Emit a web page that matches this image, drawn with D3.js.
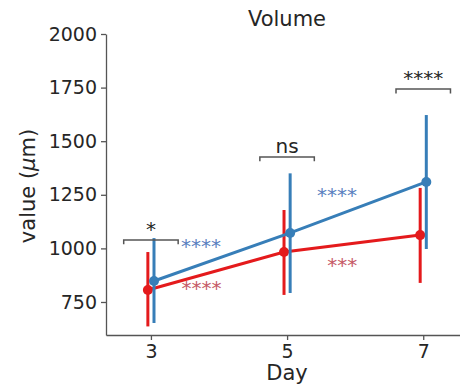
<!DOCTYPE html>
<html>
<head>
<meta charset="utf-8">
<script src="https://cdn.jsdelivr.net/npm/d3@7"></script>
<style>
  body { margin: 0; background: #fff; }
  text { font-family: "DejaVu Sans", sans-serif; fill: #262626; }
</style>
</head>
<body>
<svg id="chart"></svg>
<script>
const width = 460;
const height = 385;

// data
const days = [3, 5, 7];
const redMean = [806, 983, 1062];
const redLow = [636, 783, 839];
const redHigh = [983, 1179, 1282];
const blueMean = [848, 1072, 1310];
const blueLow = [652, 792, 997];
const blueHigh = [1048, 1350, 1622];
const yTicks = [750, 1000, 1250, 1500, 1750, 2000];

// bracket comparisons between the two groups on each day
const bracketDays = [3, 5, 7];
const bracketY = [1039, 1426, 1743];
const bracketLabels = ["*", "ns", "****"];

// within-group annotations (day, value, text)
const blueNotes = [[3.44, 979, "****"], [5.44, 1216, "****"]];
const redNotes = [[3.45, 783, "****"], [5.59, 890, "***"]];

const RED = "#e41a1c";
const BLUE = "#377eb8";

const svg = d3.select("#chart")
  .attr("width", width)
  .attr("height", height);

const x = d3.scaleLinear().domain([2.34, 7.54]).range([106, 460]);
const y = d3.scaleLinear().domain([596, 2000]).range([335, 34]);

// axes
const yAxis = svg.append("g")
  .attr("transform", `translate(${x.range()[0]},0)`)
  .call(d3.axisLeft(y).tickValues(yTicks).tickFormat(d3.format("d"))
    .tickSize(5).tickPadding(4).tickSizeOuter(0));
const xAxis = svg.append("g")
  .attr("transform", `translate(0,${y.range()[0]})`)
  .call(d3.axisBottom(x).tickValues(days).tickFormat(d3.format("d"))
    .tickSize(5).tickPadding(5).tickSizeOuter(0));

[yAxis, xAxis].forEach(a => {
  a.select(".domain").attr("stroke", "#555").attr("stroke-width", 1.3);
  a.selectAll(".tick line").attr("stroke", "#555").attr("stroke-width", 1.3);
  a.selectAll(".tick text").style("font-size", "19px").attr("fill", "#262626");
});

// titles
svg.append("text")
  .attr("x", 287).attr("y", 26)
  .attr("text-anchor", "middle")
  .style("font-size", "21px")
  .text("Volume");

svg.append("text")
  .attr("x", 287).attr("y", 380)
  .attr("text-anchor", "middle")
  .style("font-size", "21px")
  .text("Day");

const ylab = svg.append("text")
  .attr("transform", "translate(35,186) rotate(-90)")
  .attr("text-anchor", "middle")
  .style("font-size", "21px");
ylab.append("tspan").text("value (");
ylab.append("tspan").style("font-style", "italic").text("μ");
ylab.append("tspan").text("m)");

// series
const dodge = 0.045;
function drawSeries(mean, low, high, color, off) {
  const g = svg.append("g");
  const line = d3.line().x((d, i) => x(days[i] + off)).y(d => y(d));
  g.append("path")
    .datum(mean)
    .attr("d", line)
    .attr("fill", "none")
    .attr("stroke", color)
    .attr("stroke-width", 3);
  g.selectAll("line.err")
    .data(days)
    .join("line")
    .attr("class", "err")
    .attr("x1", (d) => x(d + off))
    .attr("x2", (d) => x(d + off))
    .attr("y1", (d, i) => y(low[i]))
    .attr("y2", (d, i) => y(high[i]))
    .attr("stroke", color)
    .attr("stroke-width", 3);
  g.selectAll("circle")
    .data(mean)
    .join("circle")
    .attr("cx", (d, i) => x(days[i] + off))
    .attr("cy", d => y(d))
    .attr("r", 5)
    .attr("fill", color);
}
drawSeries(redMean, redLow, redHigh, RED, -dodge);
drawSeries(blueMean, blueLow, blueHigh, BLUE, dodge);

// brackets
const half = 0.4;
const tick = 20;
bracketDays.forEach((d, i) => {
  const by = y(bracketY[i]);
  svg.append("path")
    .attr("d", `M${x(d - half)},${y(bracketY[i] - tick)}V${by}H${x(d + half)}V${y(bracketY[i] - tick)}`)
    .attr("fill", "none")
    .attr("stroke", "#555")
    .attr("stroke-width", 1.5);
  svg.append("text")
    .attr("x", x(d))
    .attr("y", by - 4)
    .attr("text-anchor", "middle")
    .style("font-size", "20px")
    .text(bracketLabels[i]);
});

// within-group stars
function notes(list, color) {
  svg.selectAll(null)
    .data(list)
    .join("text")
    .attr("x", d => x(d[0]))
    .attr("y", d => y(d[1]))
    .style("font-size", "20px")
    .style("fill", color)
    .text(d => d[2]);
}
notes(blueNotes, "#5a7fc0");
notes(redNotes, "#c65a66");
</script>
</body>
</html>
